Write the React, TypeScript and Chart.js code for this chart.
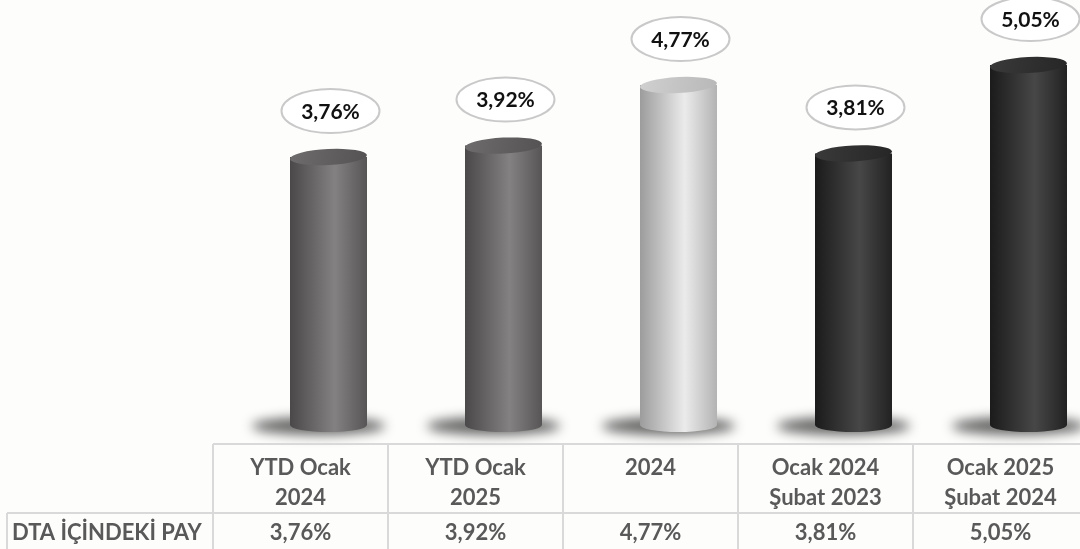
import React, { useEffect, useRef } from "react";
import { Chart, registerables } from "chart.js";

Chart.register(...registerables);

const categoryLines: string[][] = [
  ["YTD Ocak", "2024"],
  ["YTD Ocak", "2025"],
  ["2024"],
  ["Ocak 2024", "Şubat 2023"],
  ["Ocak 2025", "Şubat 2024"],
];
const values: number[] = [3.76, 3.92, 4.77, 3.81, 5.05];
const valueLabels: string[] = ["3,76%", "3,92%", "4,77%", "3,81%", "5,05%"];
const rowLabel = "DTA İÇİNDEKİ PAY";

type Palette = { left: string; mid: string; right: string; topA: string; topB: string };
const palettes: Palette[] = [
  { left: "#4a4848", mid: "#838181", right: "#575555", topA: "#6e6c6c", topB: "#545252" },
  { left: "#4a4848", mid: "#838181", right: "#575555", topA: "#6e6c6c", topB: "#545252" },
  { left: "#9c9c9c", mid: "#ebebeb", right: "#b3b3b3", topA: "#d0d0d0", topB: "#b8b8b8" },
  { left: "#1b1b1b", mid: "#474747", right: "#222222", topA: "#3a3a3a", topB: "#262626" },
  { left: "#1b1b1b", mid: "#474747", right: "#222222", topA: "#3a3a3a", topB: "#262626" },
];

const FONT = "Lato, 'Open Sans', sans-serif";
const TABLE_OFFSET = 28;
const TABLE_TOP = 444;
const ROW_Y = 513;
const GRID = "#d9d9d9";
const TEXT_GRAY = "#595959";

const cylinderPlugin = {
  id: "cylinders",
  afterDatasetsDraw(chart: any) {
    const ctx: CanvasRenderingContext2D = chart.ctx;
    const meta = chart.getDatasetMeta(0);
    meta.data.forEach((el: any, i: number) => {
      const p = palettes[i];
      const x = el.x;
      const yTop = el.y;
      const base = el.base;
      const w = el.width;
      const rx = w / 2;
      const ry = 8;
      const left = x - rx;
      const right = x + rx;

      // shadow
      ctx.save();
      ctx.filter = "blur(6px)";
      ctx.fillStyle = "rgba(0,0,0,0.6)";
      ctx.beginPath();
      ctx.ellipse(x - 10, base + 1, rx + 28, 9, 0, 0, Math.PI * 2);
      ctx.fill();
      ctx.restore();

      // body
      ctx.save();
      const g = ctx.createLinearGradient(left, 0, right, 0);
      g.addColorStop(0, p.left);
      g.addColorStop(0.58, p.mid);
      g.addColorStop(1, p.right);
      ctx.fillStyle = g;
      ctx.beginPath();
      ctx.moveTo(left, yTop);
      ctx.lineTo(left, base);
      ctx.ellipse(x, base, rx, ry - 1, 0, Math.PI, 0, true);
      ctx.lineTo(right, yTop);
      ctx.closePath();
      ctx.fill();

      // top face
      const tg = ctx.createLinearGradient(left, yTop - ry, right, yTop + ry);
      tg.addColorStop(0, p.topA);
      tg.addColorStop(1, p.topB);
      ctx.fillStyle = tg;
      ctx.beginPath();
      ctx.ellipse(x, yTop, rx, ry, -0.05, 0, Math.PI * 2);
      ctx.fill();
      ctx.restore();

      // label oval
      const cy = yTop - 46;
      ctx.save();
      ctx.fillStyle = "#ffffff";
      ctx.strokeStyle = "#c9c9c9";
      ctx.lineWidth = 2;
      ctx.beginPath();
      ctx.ellipse(x + 2, cy, 49, 22, 0, 0, Math.PI * 2);
      ctx.fill();
      ctx.stroke();
      ctx.fillStyle = "#111111";
      ctx.font = `bold 21px ${FONT}`;
      ctx.textAlign = "center";
      ctx.textBaseline = "middle";
      ctx.fillText(valueLabels[i], x + 2, cy + 1);
      ctx.restore();
    });
  },
  afterDraw(chart: any) {
    const ctx: CanvasRenderingContext2D = chart.ctx;
    const xs = chart.scales.x;
    const colW = xs.getPixelForValue(1) - xs.getPixelForValue(0);
    const H = chart.height;
    const W = chart.width;
    ctx.save();
    ctx.strokeStyle = GRID;
    ctx.lineWidth = 2;
    const firstLeft = xs.getPixelForValue(0) - colW / 2 - TABLE_OFFSET;
    ctx.beginPath();
    ctx.moveTo(firstLeft, TABLE_TOP);
    ctx.lineTo(W, TABLE_TOP);
    ctx.stroke();
    ctx.beginPath();
    ctx.moveTo(7, ROW_Y);
    ctx.lineTo(W, ROW_Y);
    ctx.stroke();
    ctx.beginPath();
    ctx.moveTo(7, ROW_Y);
    ctx.lineTo(7, H);
    ctx.stroke();
    for (let i = 0; i <= categoryLines.length; i++) {
      const lx = firstLeft + i * colW;
      ctx.beginPath();
      ctx.moveTo(lx, TABLE_TOP);
      ctx.lineTo(lx, H);
      ctx.stroke();
    }
    ctx.fillStyle = TEXT_GRAY;
    ctx.font = `bold 22px ${FONT}`;
    ctx.textAlign = "center";
    ctx.textBaseline = "middle";
    categoryLines.forEach((lines, i) => {
      const cx = xs.getPixelForValue(i) - TABLE_OFFSET;
      lines.forEach((ln, j) => {
        ctx.fillText(ln, cx, 468 + j * 30);
      });
      ctx.fillText(valueLabels[i], cx, 533);
    });
    ctx.textAlign = "left";
    ctx.fillText(rowLabel, 12, 533);
    ctx.restore();
  },
};

export default function App() {
  const ref = useRef<HTMLCanvasElement | null>(null);
  useEffect(() => {
    document.body.style.margin = "0";
    document.body.style.overflow = "hidden";
    document.body.style.background = "#fdfdfc";
    const chart = new Chart(ref.current as HTMLCanvasElement, {
      type: "bar",
      data: {
        labels: categoryLines.map((l) => l.join(" ")),
        datasets: [
          {
            data: values,
            backgroundColor: "rgba(0,0,0,0)",
            borderWidth: 0,
            barPercentage: 0.44,
            categoryPercentage: 1,
          },
        ],
      },
      options: {
        responsive: false,
        animation: false,
        events: [],
        layout: { padding: { left: 241, right: 4, top: 33, bottom: 124 } },
        plugins: { legend: { display: false }, tooltip: { enabled: false }, title: { display: false } },
        scales: {
          x: { display: false, offset: true },
          y: { display: false, min: 0, max: 5.5 },
        },
      },
      plugins: [cylinderPlugin],
    });
    return () => chart.destroy();
  }, []);
  return (
    <div style={{ width: 1080, height: 549, overflow: "hidden", background: "#fdfdfc" }}>
      <canvas ref={ref} width={1120} height={549} style={{ display: "block", width: 1120, height: 549 }} />
    </div>
  );
}
